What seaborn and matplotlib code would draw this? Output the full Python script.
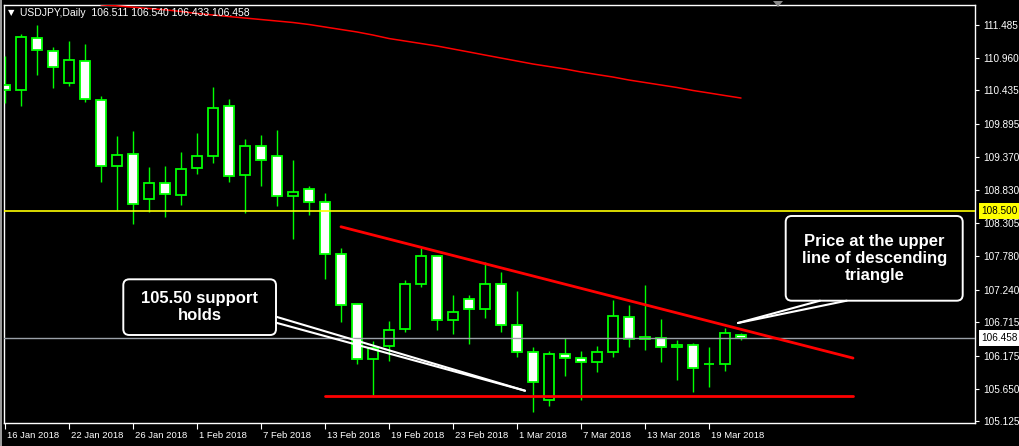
import numpy as np
import pandas as pd
import matplotlib
matplotlib.use('Agg')
import matplotlib.pyplot as plt
import seaborn as sns
from matplotlib import font_manager
from matplotlib.patches import FancyBboxPatch, Polygon, Rectangle
from matplotlib.lines import Line2D
from matplotlib.transforms import ScaledTranslation, blended_transform_factory

# ---------------------------------------------------------------------------
# Data (16 Jan - 21 Mar 2018)
# ---------------------------------------------------------------------------
dates = pd.bdate_range('2018-01-16', periods=47)

open_ = [110.517, 110.437, 111.272, 111.073, 110.549, 110.902, 110.276, 109.217,
         109.410, 108.687, 108.944, 108.752, 109.185, 109.378, 110.180, 109.073,
         109.538, 109.378, 108.735, 108.858, 108.639, 107.804, 107.002, 106.124,
         106.328, 106.601, 107.323, 107.772, 106.745, 107.087, 106.922, 107.323,
         106.665, 106.231, 105.461, 106.200, 106.135, 106.071, 106.232, 106.793,
         106.440, 106.456, 106.312, 106.344, 106.048, 106.040, 106.511]
high = [110.990, 111.341, 111.485, 111.127, 111.228, 111.180, 110.345, 109.703,
        109.784, 109.206, 109.222, 109.446, 109.752, 110.490, 110.297, 109.655,
        109.720, 109.800, 109.318, 108.896, 108.784, 107.900, 107.020, 106.413,
        106.734, 107.392, 107.900, 107.780, 107.151, 107.151, 107.686, 107.525,
        107.215, 106.317, 106.252, 106.466, 106.252, 106.328, 107.066, 106.990,
        107.312, 106.766, 106.424, 106.381, 106.317, 106.617, 106.540]
low = [110.238, 110.185, 110.682, 110.474, 110.511, 110.254, 108.970, 108.515,
       108.290, 108.488, 108.408, 108.600, 109.098, 109.275, 108.970, 108.463,
       108.906, 108.585, 108.045, 108.430, 107.403, 106.720, 106.040, 105.546,
       106.092, 106.562, 107.285, 106.594, 106.520, 106.370, 106.787, 106.562,
       106.160, 105.268, 105.365, 105.856, 105.461, 105.910, 106.156, 106.320,
       106.264, 106.071, 105.792, 105.600, 105.680, 105.936, 106.433]
close = [110.437, 111.288, 111.079, 110.806, 110.918, 110.292, 109.217, 109.394,
         108.607, 108.944, 108.768, 109.169, 109.378, 110.148, 109.056, 109.538,
         109.313, 108.735, 108.800, 108.639, 107.809, 106.986, 106.124, 106.305,
         106.585, 107.323, 107.772, 106.745, 106.874, 106.922, 107.323, 106.665,
         106.231, 105.750, 106.200, 106.135, 106.071, 106.232, 106.809, 106.440,
         106.472, 106.312, 106.344, 105.974, 106.048, 106.536, 106.458]

# moving average (red curve), from the 7th bar on
ma_start = 6
ma_values = [111.809, 111.792, 111.771, 111.750, 111.729, 111.702, 111.670,
             111.646, 111.621, 111.597, 111.573, 111.549, 111.525, 111.493,
             111.453, 111.413, 111.373, 111.324, 111.268, 111.228, 111.188,
             111.148, 111.100, 111.052, 111.003, 110.955, 110.907, 110.859,
             110.819, 110.779, 110.731, 110.690, 110.650, 110.602, 110.562,
             110.522, 110.482, 110.434, 110.394, 110.353, 110.313]

# drawn lines (bar index, price)
support_x = [20, 53]
support_y = [105.53, 105.53]
resist_x = [21, 53]
resist_y = [108.247, 106.140]
level_yellow = 108.500
last_price = 106.458

price_ticks = [111.485, 110.960, 110.435, 109.895, 109.370, 108.830, 108.305,
               107.780, 107.240, 106.715, 106.175, 105.650, 105.125]

header = 'USDJPY,Daily  106.511 106.540 106.433 106.458'
note_support = '105.50 support\nholds'
note_triangle = 'Price at the upper\nline of descending\ntriangle'

# ---------------------------------------------------------------------------
GREEN = '#00ff00'
sns.set_style('dark', {'axes.facecolor': 'black', 'figure.facecolor': 'black',
                       'axes.edgecolor': 'white', 'text.color': 'white',
                       'xtick.color': 'white', 'ytick.color': 'white',
                       'axes.grid': False})
try:
    font_manager.findfont('Liberation Sans Narrow', fallback_to_default=False)
    FONT, fs_y, fs_x, fs_big = 'Liberation Sans Narrow', 7.7, 7.7, 13.5
except ValueError:
    FONT, fs_y, fs_x, fs_big = 'Liberation Sans', 7.2, 6.8, 12
plt.rcParams['font.family'] = [FONT, 'DejaVu Sans']

fig = plt.figure(figsize=(10.2, 4.46), dpi=100, facecolor='black')
ax = fig.add_axes([4 / 1020, 23 / 446, 971 / 1020, 418 / 446])
ax.set_facecolor('black')

df = pd.DataFrame({'date': dates, 'open': open_, 'high': high,
                   'low': low, 'close': close})
df['idx'] = np.arange(len(df))
bear = df['close'] < df['open']

# candles: wick + body
ax.vlines(df['idx'], df['low'], df['high'], color=GREEN, lw=1, zorder=3)
ax.bar(df['idx'], (df['close'] - df['open']).abs(),
       bottom=df[['open', 'close']].min(axis=1), width=0.6,
       color=np.where(bear, 'white', 'black'), edgecolor=GREEN,
       linewidth=1.3, zorder=4)

# moving average
ma = pd.DataFrame({'idx': np.arange(ma_start, ma_start + len(ma_values)),
                   'ma': ma_values})
sns.lineplot(data=ma, x='idx', y='ma', ax=ax, color='red', lw=1.1, zorder=5)

# horizontal levels
ax.axhline(level_yellow, color='#ffff00', lw=1.2, zorder=5)
ax.axhline(last_price, color='#9aa0a8', lw=1, zorder=5)

# triangle lines
sns.lineplot(x=support_x, y=support_y, ax=ax, color='red', lw=2, zorder=6)
sns.lineplot(x=resist_x, y=resist_y, ax=ax, color='red', lw=2, zorder=6)

ax.set_xlim(-0.0625, 60.625)
ax.set_ylim(105.098, 111.806)
ax.set_xlabel('')
ax.set_ylabel('')

for s in ax.spines.values():
    s.set_color('white')
    s.set_linewidth(1)

# right price scale
ax.yaxis.tick_right()
ax.set_yticks(price_ticks)
ax.set_yticklabels([f'{v:.3f}' for v in price_ticks])
ax.tick_params(axis='y', length=3, width=0.8, pad=3, labelsize=fs_y,
               colors='white', right=True, left=False)

# date scale
tick_idx = list(range(0, len(dates), 4))
ax.set_xticks(tick_idx)
ax.set_xticklabels([f'{d.day} {d:%b %Y}' for d in dates[tick_idx]], ha='left')
ax.tick_params(axis='x', length=4, width=0.8, pad=1.5, labelsize=fs_x,
               colors='white', bottom=True)
for lbl in ax.get_xticklabels():
    lbl.set_transform(lbl.get_transform() + ScaledTranslation(2 / 100, 0, fig.dpi_scale_trans))

# highlighted price labels
bt = blended_transform_factory(ax.transAxes, ax.transData)
ax.text(1.0069, level_yellow, f'{level_yellow:.3f}', transform=bt, ha='left', va='center',
        fontsize=fs_y, color='black', clip_on=False, zorder=10,
        bbox=dict(boxstyle='square,pad=0.3', fc='#ffff00', ec='none'))
ax.text(1.0069, last_price, f'{last_price:.3f}', transform=bt, ha='left', va='center',
        fontsize=fs_y, color='black', clip_on=False, zorder=10,
        bbox=dict(boxstyle='square,pad=0.3', fc='white', ec='none'))


# ---------------------------------------------------------------------------
# annotations, placed in image pixels
def P(x, y):
    return (x / 100, (446 - y) / 100)


tr = fig.dpi_scale_trans

fig.text(*P(11, 12.5), '\u25bc', transform=tr, fontsize=6, family='DejaVu Sans',
         ha='center', va='center', color='white')
fig.text(*P(20.5, 12.5), header, transform=tr, fontsize=7.5, ha='left',
         va='center', color='white')
fig.add_artist(Polygon([P(773, 1), P(783, 1), P(778, 7)], closed=True,
                       transform=tr, fc='#8a8a8a', ec='none'))
fig.add_artist(Rectangle(P(0, 446), 0.02, 4.46, transform=tr, fc='#9a9a9a', ec='none'))

for (x0, y0, x1, y1) in [(123.3, 279.3, 276, 335), (785.7, 216, 962.7, 300.7)]:
    fig.add_artist(FancyBboxPatch(P(x0, y1), (x1 - x0) / 100, (y1 - y0) / 100,
                                  boxstyle='round,pad=0,rounding_size=0.06',
                                  transform=tr, fc='black', ec='white', lw=1.4, zorder=8))

for (xa, ya, xb, yb) in [(276, 316.7, 525, 390.7), (276, 322.7, 525, 390.7),
                         (820, 300.7, 738, 323), (846.7, 300.7, 738, 323)]:
    (ax_, ay_), (bx_, by_) = P(xa, ya), P(xb, yb)
    fig.add_artist(Line2D([ax_, bx_], [ay_, by_], transform=tr, color='white',
                          lw=1.5, zorder=9))

fig.text(*P(199.7, 307), note_support, transform=tr, ha='center', va='center',
         multialignment='center', fontsize=fs_big, fontweight='bold',
         color='white', linespacing=1.25, zorder=10)
fig.text(*P(874.2, 258.5), note_triangle, transform=tr, ha='center', va='center',
         multialignment='center', fontsize=fs_big, fontweight='bold',
         color='white', linespacing=1.2, zorder=10)

fig.savefig('out.png', dpi=100, facecolor='black')
